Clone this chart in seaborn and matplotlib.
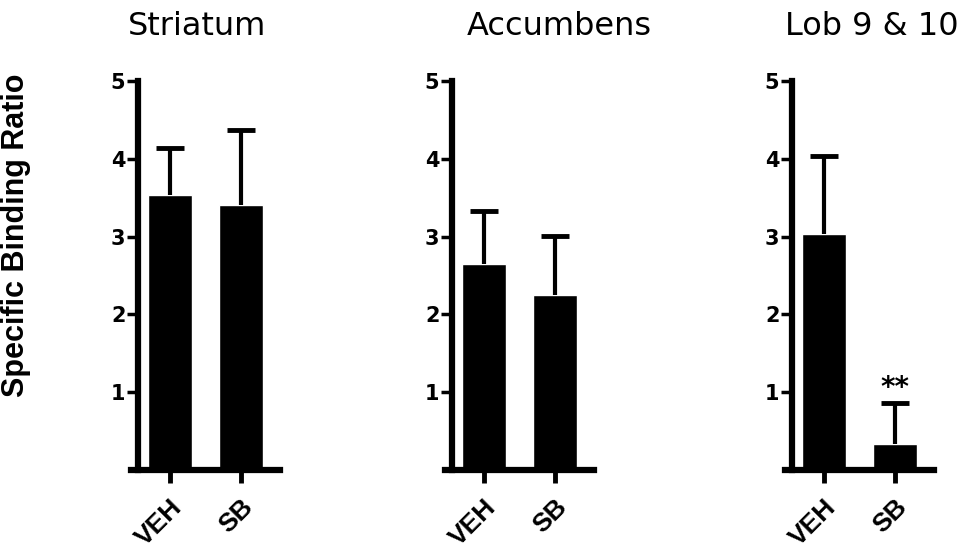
import pandas as pd
import seaborn as sns
import matplotlib.pyplot as plt

# values (mean and upper error)
regions = ["Striatum", "Accumbens", "Lob 9 & 10"]
groups = ["VEH", "SB"]
veh_mean = [3.53, 2.65, 3.03]
sb_mean = [3.41, 2.25, 0.33]
veh_err = [0.61, 0.68, 1.01]
sb_err = [0.96, 0.76, 0.53]
signif = ["", "", "**"]

rows = []
for i, r in enumerate(regions):
    rows.append({"region": r, "group": "VEH", "value": veh_mean[i], "err": veh_err[i]})
    rows.append({"region": r, "group": "SB", "value": sb_mean[i], "err": sb_err[i]})
df = pd.DataFrame(rows)

sns.set_style("ticks", {"axes.edgecolor": "black", "text.color": "black",
                        "xtick.color": "black", "ytick.color": "black"})
plt.rcParams['font.family'] = ['Liberation Sans', 'DejaVu Sans']

fig = plt.figure(figsize=(9.75, 5.59), dpi=100)

lefts = [138, 452, 792]
title_x = [0.42, 0.77, 0.57]
for i, r in enumerate(regions):
    ax = fig.add_axes([lefts[i] / 975, 89 / 559, 140 / 975, 389 / 559])
    sub = df[df["region"] == r]
    sns.barplot(data=sub, x="group", y="value", order=groups, color="black",
                saturation=1, errorbar=None, width=0.62, ax=ax)
    eb = ax.errorbar([0, 1], sub["value"].values, yerr=[[0, 0], sub["err"].values],
                     fmt="none", ecolor="black", elinewidth=3, capsize=10, capthick=3.5)
    eb[1][0].set_visible(False)  # no cap at the bar top
    if signif[i]:
        ax.text(1, sub["value"].values[1] + sub["err"].values[1] + 0.2, signif[i],
                ha="center", va="center", fontsize=20, fontweight="bold",
                family="DejaVu Sans", color="black")
    ax.set_xlim(-0.45, 1.52)
    ax.set_ylim(0, 5)
    ax.set_yticks([1, 2, 3, 4, 5])
    ax.set_xlabel("")
    ax.set_ylabel("")
    sns.despine(ax=ax)
    ax.spines["left"].set_linewidth(4.5)
    ax.spines["bottom"].set_linewidth(4.5)
    ax.spines["bottom"].set_bounds(-0.55, 1.55)
    ax.tick_params(axis="y", length=8, width=2.5, pad=1, labelsize=15)
    ax.tick_params(axis="x", length=9, width=3.5, pad=9, labelsize=19)
    for lab in ax.get_yticklabels():
        lab.set_fontweight("bold")
        lab.set_family("DejaVu Sans")
    for lab in ax.get_xticklabels():
        lab.set_fontweight("bold")
        lab.set_rotation(45)
        lab.set_ha("right")
        lab.set_rotation_mode("anchor")
    fig.text((lefts[i] + title_x[i] * 140) / 975, 1 - 35 / 559, r, ha="center",
             va="baseline", fontsize=23, family="DejaVu Sans")

fig.text(0.016, 0.58, "Specific Binding Ratio", rotation=90, ha="center",
         va="center", fontsize=22, fontweight="bold")

plt.savefig("out.png", dpi=100)
